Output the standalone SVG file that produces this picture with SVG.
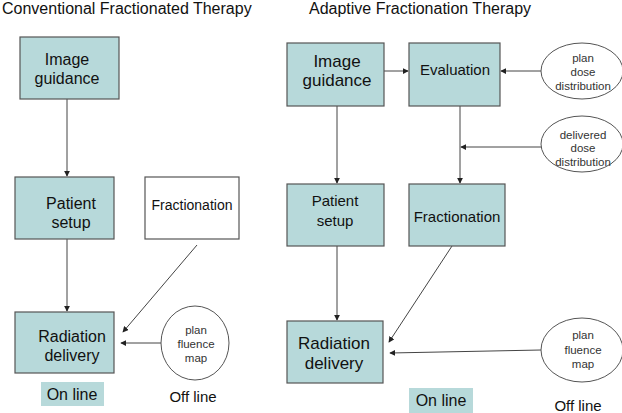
<svg xmlns="http://www.w3.org/2000/svg" width="622" height="413" viewBox="0 0 622 413">
<defs>
<style>
.box{fill:#b7d9da;stroke:#555;stroke-width:1.2}
.wbox{fill:#fff;stroke:#555;stroke-width:1.2}
.ell{fill:#fff;stroke:#555;stroke-width:1}
.t{font-family:"Liberation Sans",Arial,sans-serif;fill:#111;text-anchor:middle}
.title{font-family:"Liberation Sans",Arial,sans-serif;fill:#111;font-size:16px}
.s{font-size:11.5px;fill:#333}
.c{stroke:#444;stroke-width:1;fill:none;marker-end:url(#ah)}
</style>
<marker id="ah" viewBox="0 0 8 8" refX="7" refY="4" markerWidth="6" markerHeight="6" orient="auto" markerUnits="userSpaceOnUse">
<path d="M0,0 L8,4 L0,8 z" fill="#222"/>
</marker>
</defs>
<rect width="622" height="413" fill="#fff"/>
<text class="title" x="2" y="14">Conventional Fractionated Therapy</text>
<text class="title" x="309" y="14">Adaptive Fractionation Therapy</text>

<g id="connectors">
<line class="c" x1="67" y1="99" x2="67" y2="176"/>
<line class="c" x1="67" y1="239" x2="67" y2="311"/>
<line class="c" x1="197" y1="245" x2="123" y2="332"/>
<line class="c" x1="161" y1="343" x2="121" y2="343"/>
<line class="c" x1="384" y1="71" x2="408" y2="71"/>
<line class="c" x1="541" y1="71" x2="501" y2="71"/>
<line class="c" x1="460" y1="106" x2="460" y2="183"/>
<line class="c" x1="541" y1="147" x2="461" y2="147"/>
<line class="c" x1="337" y1="106" x2="337" y2="183"/>
<line class="c" x1="337" y1="246" x2="337" y2="320"/>
<line class="c" x1="452" y1="246" x2="389" y2="342"/>
<line class="c" x1="541" y1="350" x2="390" y2="353"/>
</g>

<g id="l-image"><rect class="box" x="20" y="37" width="99" height="62"/>
<text class="t" x="67" y="65" font-size="16">Image</text><text class="t" x="67" y="84" font-size="16">guidance</text></g>
<g id="l-patient"><rect class="box" x="15" y="177" width="99" height="62"/>
<text class="t" x="71" y="209" font-size="16">Patient</text><text class="t" x="71" y="228" font-size="16">setup</text></g>
<g id="l-fract"><rect class="wbox" x="145" y="177" width="94" height="62"/>
<text class="t" x="192" y="210" font-size="14">Fractionation</text></g>
<g id="l-rad"><rect class="box" x="15" y="312" width="99" height="61"/>
<text class="t" x="72" y="342" font-size="16">Radiation</text><text class="t" x="72" y="361" font-size="16">delivery</text></g>
<g id="l-plan"><ellipse class="ell" cx="195" cy="343" rx="34" ry="37"/>
<text class="t s" x="196" y="334">plan</text><text class="t s" x="196" y="348">fluence</text><text class="t s" x="196" y="362">map</text></g>
<g id="l-online"><rect x="41" y="382" width="63" height="24" fill="#b7d9da"/>
<text class="t" x="72" y="400" font-size="16">On line</text></g>
<g id="l-offline"><text class="t" x="193" y="402" font-size="15">Off line</text></g>

<g id="r-image"><rect class="box" x="287" y="43" width="97" height="63"/>
<text class="t" x="337" y="67" font-size="17">Image</text><text class="t" x="337" y="86" font-size="17">guidance</text></g>
<g id="r-eval"><rect class="box" x="409" y="43" width="91" height="63"/>
<text class="t" x="455" y="75" font-size="15">Evaluation</text></g>
<g id="r-pdd"><ellipse class="ell" cx="582" cy="71" rx="41" ry="28"/>
<text class="t s" x="583" y="62">plan</text><text class="t s" x="583" y="76">dose</text><text class="t s" x="583" y="90">distribution</text></g>
<g id="r-ddd"><ellipse class="ell" cx="582" cy="144" rx="41" ry="28"/>
<text class="t s" x="583" y="139">delivered</text><text class="t s" x="583" y="152">dose</text><text class="t s" x="583" y="166">distribution</text></g>
<g id="r-patient"><rect class="box" x="287" y="184" width="97" height="62"/>
<text class="t" x="335" y="206" font-size="15">Patient</text><text class="t" x="335" y="226" font-size="15">setup</text></g>
<g id="r-fract"><rect class="box" x="409" y="184" width="96" height="62"/>
<text class="t" x="457" y="222" font-size="15">Fractionation</text></g>
<g id="r-rad"><rect class="box" x="287" y="321" width="96" height="62"/>
<text class="t" x="334" y="349" font-size="17">Radiation</text><text class="t" x="334" y="369" font-size="17">delivery</text></g>
<g id="r-plan"><ellipse class="ell" cx="582" cy="350" rx="41" ry="32"/>
<text class="t s" x="583" y="339">plan</text><text class="t s" x="583" y="354">fluence</text><text class="t s" x="583" y="368">map</text></g>
<g id="r-online"><rect x="409" y="388" width="64" height="25" fill="#b7d9da"/>
<text class="t" x="441" y="406" font-size="16">On line</text></g>
<g id="r-offline"><text class="t" x="578" y="411" font-size="15">Off line</text></g>
</svg>
